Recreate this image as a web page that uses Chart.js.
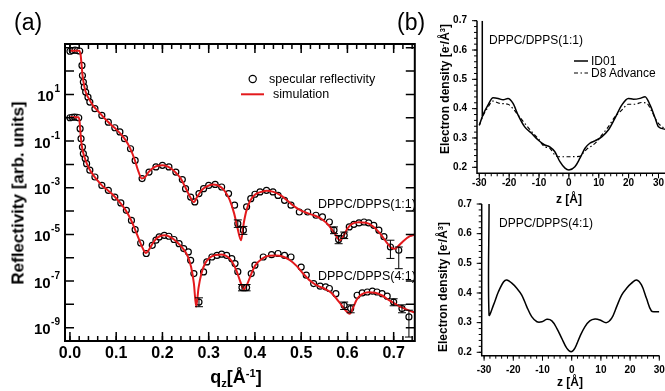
<!DOCTYPE html>
<html>
<head>
<meta charset="utf-8">
<script src="https://cdn.jsdelivr.net/npm/chart.js@4.4.0/dist/chart.umd.min.js"></script>
<style>
  body { margin: 0; width: 665px; height: 391px; background: #fff; position: relative; overflow: hidden;
         font-family: "Liberation Sans", Arial, sans-serif; color: #000; }
  canvas { position: absolute; }
  .t { position: absolute; white-space: nowrap; line-height: 1; }
  .c { transform: translate(-50%, -50%); }
  .l { transform: translateY(-50%); }
  .rot { transform: translate(-50%, -50%) rotate(-90deg); }
  .sup { font-size: 0.62em; position: relative; top: -0.5em; }
  .sub { font-size: 0.62em; position: relative; top: 0.35em; }
</style>
</head>
<body>
<canvas id="chartA" width="420" height="391" style="left:0;top:0"></canvas>
<canvas id="chartB" width="245" height="190" style="left:420px;top:0"></canvas>
<canvas id="chartC" width="245" height="201" style="left:420px;top:190px"></canvas>

<div class="t" style="left:14px;top:11px;font-size:23px">(a)</div>
<div class="t" style="left:397px;top:11px;font-size:23px">(b)</div>
<div class="t rot" style="left:18px;top:193px;font-weight:bold;font-size:17px">Reflectivity [arb. units]</div>
<div class="t c" style="left:236px;top:377px;font-weight:bold;font-size:18px">q<span class="sub">z</span>[Å<span class="sup">-1</span>]</div>
<div class="t l" style="left:269px;top:79px;font-size:12.5px">specular reflectivity</div>
<div class="t l" style="left:273px;top:94px;font-size:12.5px">simulation</div>
<div class="t l" style="left:318px;top:204px;font-size:12.5px">DPPC/DPPS(1:1)</div>
<div class="t l" style="left:318px;top:276px;font-size:12.5px">DPPC/DPPS(4:1)</div>

<div class="t rot" style="left:445px;top:89px;font-weight:bold;font-size:12px">Electron density [e<span class="sup">-</span>/Å<span class="sup">3</span>]</div>
<div class="t c" style="left:569px;top:199px;font-weight:bold;font-size:12px">z [Å]</div>
<div class="t l" style="left:489px;top:40px;font-size:12px">DPPC/DPPS(1:1)</div>
<div class="t l" style="left:591px;top:61px;font-size:12px">ID01</div>
<div class="t l" style="left:591px;top:73px;font-size:12px">D8 Advance</div>

<div class="t rot" style="left:443px;top:287px;font-weight:bold;font-size:12px">Electron density [e<span class="sup">-</span>/Å<span class="sup">3</span>]</div>
<div class="t c" style="left:570px;top:382px;font-weight:bold;font-size:12px">z [Å]</div>
<div class="t l" style="left:499px;top:223px;font-size:12px">DPPC/DPPS(4:1)</div>

<script>
// ---- (a) reflectivity: q_z [1/Å] and log10 of reflectivity ----
const q11 = [0.000, 0.005, 0.011, 0.016, 0.021, 0.026, 0.027, 0.029, 0.031, 0.034, 0.039, 0.043, 0.054, 0.069, 0.083,
  0.097, 0.108, 0.118, 0.131, 0.141, 0.156, 0.171, 0.186, 0.200, 0.214, 0.229, 0.243, 0.250, 0.261, 0.270, 0.279,
  0.289, 0.300, 0.314, 0.328, 0.343, 0.356, 0.363, 0.375, 0.382, 0.391, 0.400, 0.411, 0.425, 0.439, 0.450, 0.464,
  0.478, 0.496, 0.514, 0.532, 0.546, 0.561, 0.571, 0.581, 0.593, 0.604, 0.614, 0.625, 0.636, 0.646, 0.657, 0.668,
  0.679, 0.693, 0.711];
const logR11 = [2.85, 2.88, 2.90, 2.88, 2.86, 2.24, 1.81, 1.53, 1.31, 1.10, 0.88, 0.67, 0.39, 0.10, -0.19,
  -0.43, -0.61, -0.90, -1.33, -1.83, -2.61, -2.33, -2.11, -2.04, -2.11, -2.33, -2.65, -3.04, -3.40, -3.61, -3.25,
  -3.04, -2.90, -2.86, -2.97, -3.25, -3.75, -4.54, -4.82, -3.82, -3.47, -3.28, -3.18, -3.11, -3.18, -3.33, -3.54,
  -3.75, -4.04, -4.04, -4.18, -4.25, -4.47, -4.82, -5.22, -5.04, -4.68, -4.57, -4.51, -4.47, -4.51, -4.61, -4.82,
  -5.10, -5.54, -5.68];
// [q, log10 low, log10 high]
const err11 = [[0.363, -4.70, -4.38], [0.375, -5.00, -4.66], [0.571, -4.97, -4.68], [0.581, -5.40, -5.05],
  [0.593, -5.18, -4.90], [0.693, -6.03, -5.25], [0.711, -6.47, -5.54]];

const qSim11 = [0.000, 0.020, 0.023, 0.025, 0.027, 0.030, 0.034, 0.040, 0.050, 0.060, 0.070, 0.080, 0.090, 0.100,
  0.110, 0.120, 0.130, 0.140, 0.148, 0.155, 0.162, 0.170, 0.180, 0.190, 0.200, 0.210, 0.220, 0.230, 0.240, 0.250,
  0.260, 0.268, 0.275, 0.285, 0.295, 0.310, 0.325, 0.335, 0.345, 0.355, 0.362, 0.370, 0.376, 0.382, 0.390, 0.400,
  0.410, 0.425, 0.440, 0.455, 0.470, 0.485, 0.500, 0.515, 0.530, 0.545, 0.560, 0.572, 0.584, 0.592, 0.600, 0.610,
  0.625, 0.640, 0.655, 0.670, 0.685, 0.695, 0.702, 0.710, 0.720, 0.735, 0.746];
const logSim11 = [2.87, 2.87, 2.70, 2.30, 1.85, 1.45, 1.10, 0.85, 0.52, 0.30, 0.08, -0.13, -0.32, -0.50,
  -0.70, -0.95, -1.30, -1.80, -2.30, -2.60, -2.55, -2.33, -2.15, -2.06, -2.04, -2.08, -2.20, -2.38, -2.62, -3.00,
  -3.40, -3.62, -3.40, -3.10, -2.95, -2.86, -2.95, -3.15, -3.50, -4.10, -4.70, -5.25, -4.50, -3.95, -3.55, -3.30,
  -3.20, -3.13, -3.18, -3.32, -3.55, -3.80, -3.98, -4.10, -4.20, -4.35, -4.62, -4.95, -5.25, -5.05, -4.75, -4.55,
  -4.48, -4.50, -4.65, -4.95, -5.35, -5.58, -5.62, -5.50, -5.30, -5.08, -5.00];

const q41 = [0.000, 0.005, 0.010, 0.015, 0.019, 0.022, 0.024, 0.027, 0.029, 0.033, 0.036, 0.043, 0.054, 0.069,
  0.083, 0.097, 0.110, 0.122, 0.133, 0.141, 0.153, 0.165, 0.178, 0.186, 0.193, 0.204, 0.214, 0.225, 0.236, 0.246,
  0.256, 0.261, 0.268, 0.279, 0.289, 0.296, 0.307, 0.318, 0.328, 0.339, 0.350, 0.357, 0.363, 0.372, 0.382, 0.392,
  0.400, 0.418, 0.436, 0.450, 0.464, 0.478, 0.500, 0.511, 0.527, 0.541, 0.553, 0.561, 0.575, 0.593, 0.607, 0.621,
  0.632, 0.643, 0.654, 0.664, 0.675, 0.686, 0.700, 0.718, 0.733];
const logR41 = [0.00, 0.02, 0.03, 0.02, 0.00, -0.47, -0.90, -1.26, -1.54, -1.75, -1.97, -2.25, -2.54, -2.90,
  -3.11, -3.40, -3.65, -3.97, -4.40, -4.80, -5.37, -5.82, -5.47, -5.25, -5.11, -5.04, -5.08, -5.22, -5.40, -5.61,
  -5.75, -6.11, -6.68, -7.90, -6.61, -6.18, -5.97, -5.90, -5.85, -5.90, -6.04, -6.25, -6.60, -7.28, -7.28, -6.68,
  -6.32, -5.97, -5.87, -5.82, -5.90, -5.97, -6.40, -6.75, -7.11, -7.22, -7.25, -7.32, -7.54, -8.04, -8.18, -7.61,
  -7.51, -7.47, -7.43, -7.47, -7.54, -7.65, -7.90, -8.18, -8.54];
const err41 = [[0.279, -8.10, -7.72], [0.372, -7.42, -7.15], [0.382, -7.42, -7.15], [0.593, -8.22, -7.90],
  [0.607, -8.36, -8.02], [0.700, -8.06, -7.76], [0.718, -8.36, -8.02], [0.733, -9.40, -8.25]];

const qSim41 = [0.000, 0.019, 0.021, 0.023, 0.025, 0.028, 0.032, 0.036, 0.042, 0.050, 0.060, 0.070, 0.080, 0.090,
  0.100, 0.110, 0.120, 0.130, 0.140, 0.150, 0.158, 0.164, 0.170, 0.177, 0.186, 0.195, 0.205, 0.215, 0.225, 0.235,
  0.245, 0.255, 0.262, 0.268, 0.273, 0.278, 0.284, 0.292, 0.302, 0.315, 0.328, 0.340, 0.350, 0.360, 0.368, 0.376,
  0.384, 0.392, 0.400, 0.415, 0.430, 0.445, 0.460, 0.475, 0.490, 0.505, 0.520, 0.535, 0.550, 0.565, 0.580, 0.590,
  0.598, 0.605, 0.612, 0.620, 0.630, 0.645, 0.660, 0.675, 0.690, 0.705, 0.720, 0.735, 0.746];
const logSim41 = [0.02, 0.02, -0.20, -0.70, -1.10, -1.45, -1.72, -1.95, -2.20, -2.45, -2.70, -2.92, -3.08, -3.25,
  -3.45, -3.68, -3.95, -4.30, -4.75, -5.25, -5.62, -5.80, -5.68, -5.45, -5.20, -5.07, -5.04, -5.10, -5.22, -5.40,
  -5.62, -5.95, -6.40, -7.10, -8.10, -7.30, -6.70, -6.25, -6.00, -5.88, -5.86, -5.95, -6.15, -6.55, -7.00, -7.35,
  -7.10, -6.70, -6.35, -6.05, -5.92, -5.90, -5.95, -6.10, -6.35, -6.70, -7.00, -7.20, -7.32, -7.50, -7.85, -8.10,
  -8.30, -8.40, -8.15, -7.80, -7.58, -7.48, -7.50, -7.62, -7.82, -8.00, -8.15, -8.28, -8.35];

const qLabels = [0.0, 0.1, 0.2, 0.3, 0.4, 0.5, 0.6, 0.7];
const decadeTicks = [3, 2, 1, 0, -1, -2, -3, -4, -5, -6, -7, -8, -9];
const decadeLabels = [1, -1, -3, -5, -7, -9];

// ---- (b) electron density profiles: z [Å] and rho [e/Å^3] ----
const zID01 = [-30.0, -28.8, -27.1, -25.4, -23.7, -22.0, -20.4, -18.7, -17.0, -14.8, -12.5, -10.3, -8.1, -6.4,
  -4.7, -3.0, -1.3, 0.0, 2.0, 3.7, 5.4, 7.0, 8.7, 11.0, 13.2, 15.4, 17.7, 19.9, 21.6, 23.8, 25.5, 27.2, 28.9,
  30.0, 32.2];
const rhoID01 = [0.343, 0.378, 0.412, 0.437, 0.435, 0.430, 0.435, 0.418, 0.378, 0.338, 0.316, 0.293, 0.276, 0.270,
  0.253, 0.219, 0.197, 0.191, 0.202, 0.231, 0.265, 0.282, 0.290, 0.304, 0.327, 0.367, 0.412, 0.435, 0.432, 0.435,
  0.441, 0.412, 0.367, 0.338, 0.330];
const zD8 = [-30.0, -28.8, -27.1, -25.4, -23.2, -20.4, -18.7, -17.0, -14.8, -12.5, -10.3, -8.1, -6.4, -4.7, -3.5,
  0.0, 3.5, 4.7, 6.0, 7.5, 9.0, 11.0, 13.2, 15.4, 17.7, 19.9, 22.1, 24.3, 26.1, 27.8, 29.6, 32.2];
const rhoD8 = [0.343, 0.375, 0.405, 0.426, 0.418, 0.415, 0.400, 0.378, 0.350, 0.322, 0.298, 0.270, 0.265, 0.242,
  0.236, 0.236, 0.237, 0.248, 0.262, 0.272, 0.284, 0.310, 0.338, 0.372, 0.395, 0.415, 0.415, 0.421, 0.418, 0.390,
  0.355, 0.330];
const zEdge11 = [-29.0, -29.0];
const rhoEdge11 = [0.70, 0.375];

const z41 = [-28.3, -28.3, -26.8, -25.1, -23.3, -22.2, -20.5, -18.8, -17.1, -15.4, -13.7, -11.9, -10.2, -8.5, -6.8,
  -5.1, -3.4, -1.7, -0.2, 1.1, 2.8, 4.5, 6.2, 8.0, 9.7, 11.9, 13.7, 15.4, 17.1, 18.8, 20.5, 22.2, 23.9, 25.6, 27.3,
  29.0, 30.0];
const rho41 = [0.70, 0.326, 0.359, 0.404, 0.438, 0.444, 0.433, 0.416, 0.393, 0.354, 0.320, 0.303, 0.303, 0.311,
  0.306, 0.281, 0.247, 0.214, 0.202, 0.214, 0.253, 0.286, 0.306, 0.312, 0.309, 0.300, 0.315, 0.354, 0.393, 0.416,
  0.433, 0.444, 0.427, 0.382, 0.339, 0.337, 0.337];

const zLabels = [-30, -20, -10, 0, 10, 20, 30];
const rhoLabels = [0.2, 0.3, 0.4, 0.5, 0.6, 0.7];

const FONT = '"Liberation Sans", Arial, sans-serif';

function range(a, b, step) {
  const out = [];
  for (let v = a; v <= b + step / 1000; v += step) out.push(+v.toFixed(4));
  return out;
}
const qMinor = range(0, 0.74, 0.02);
const zMinor = range(-30, 30, 2);
const rhoMinor = range(0.2, 0.7, 0.02);

function pts(xs, ys, f) {
  return xs.map((x, i) => ({ x: x, y: f ? f(ys[i]) : ys[i] }));
}
const pow10 = v => Math.pow(10, v);

// tick marks on the sides of the plot area
function marks(ctx, a, scale, values, len, sides, inward) {
  ctx.beginPath();
  values.forEach(v => {
    const p = scale.getPixelForValue(v);
    sides.forEach(side => {
      if (side === 'bottom') { ctx.moveTo(p, a.bottom); ctx.lineTo(p, a.bottom + (inward ? -len : len)); }
      if (side === 'top') { ctx.moveTo(p, a.top); ctx.lineTo(p, a.top + (inward ? len : -len)); }
      if (side === 'left') { ctx.moveTo(a.left, p); ctx.lineTo(a.left + (inward ? len : -len), p); }
      if (side === 'right') { ctx.moveTo(a.right, p); ctx.lineTo(a.right + (inward ? -len : len), p); }
    });
  });
  ctx.stroke();
}

const reflFrame = {
  id: 'reflFrame',
  afterDatasetsDraw(chart) {
    const ctx = chart.ctx, x = chart.scales.x, y = chart.scales.y;
    ctx.save();
    ctx.strokeStyle = '#000';
    ctx.lineWidth = 1;
    err11.concat(err41).forEach(([q, lo, hi]) => {
      const px = x.getPixelForValue(q), y1 = y.getPixelForValue(pow10(lo)), y2 = y.getPixelForValue(pow10(hi));
      ctx.beginPath();
      ctx.moveTo(px, y1); ctx.lineTo(px, y2);
      ctx.moveTo(px - 4, y1); ctx.lineTo(px + 4, y1);
      ctx.moveTo(px - 4, y2); ctx.lineTo(px + 4, y2);
      ctx.stroke();
    });
    ctx.restore();
  },
  afterDraw(chart) {
    const { ctx, chartArea: a } = chart;
    const x = chart.scales.x, y = chart.scales.y;
    ctx.save();
    ctx.strokeStyle = '#000';
    ctx.lineWidth = 2;
    ctx.strokeRect(a.left, a.top, a.width, a.height);
    ctx.lineWidth = 1.5;
    marks(ctx, a, x, qMinor, 5, ['bottom', 'top'], true);
    marks(ctx, a, x, qLabels, 9, ['bottom', 'top'], true);
    marks(ctx, a, y, decadeTicks.map(pow10), 9, ['left', 'right'], true);

    ctx.fillStyle = '#000';
    ctx.textBaseline = 'middle';
    ctx.textAlign = 'center';
    ctx.font = 'bold 16px ' + FONT;
    qLabels.forEach(q => ctx.fillText(q.toFixed(1), x.getPixelForValue(q), 354));
    decadeLabels.forEach(e => {
      const py = y.getPixelForValue(pow10(e));
      const sup = String(e);
      ctx.font = 'bold 10px ' + FONT;
      const w = ctx.measureText(sup).width;
      ctx.textAlign = 'left';
      ctx.fillText(sup, 60 - w, py - 5);
      ctx.font = 'bold 15px ' + FONT;
      ctx.textAlign = 'right';
      ctx.fillText('10', 59.5 - w, py + 2.5);
    });

    // legend symbols
    ctx.lineWidth = 1.2;
    ctx.beginPath();
    ctx.arc(252.7, 79, 3.6, 0, Math.PI * 2);
    ctx.stroke();
    ctx.strokeStyle = '#e3191c';
    ctx.lineWidth = 2;
    ctx.beginPath();
    ctx.moveTo(241, 94.3); ctx.lineTo(264, 94.3);
    ctx.stroke();
    ctx.restore();
  }
};

const profileAxes = {
  id: 'profileAxes',
  afterDraw(chart, args, opts) {
    const { ctx, chartArea: a } = chart;
    const x = chart.scales.x, y = chart.scales.y;
    ctx.save();
    ctx.strokeStyle = '#000';
    ctx.lineWidth = 1.5;
    ctx.beginPath();
    ctx.moveTo(a.left, a.top); ctx.lineTo(a.left, a.bottom); ctx.lineTo(a.right, a.bottom);
    ctx.stroke();
    ctx.lineWidth = 1;
    marks(ctx, a, x, zMinor, 3, ['bottom'], false);
    marks(ctx, a, x, zLabels, 5, ['bottom'], false);
    marks(ctx, a, y, rhoMinor, 3, ['left'], false);
    marks(ctx, a, y, rhoLabels, 5, ['left'], false);

    ctx.fillStyle = '#000';
    ctx.font = 'bold 10px ' + FONT;
    ctx.textBaseline = 'middle';
    ctx.textAlign = 'right';
    rhoLabels.forEach(v => ctx.fillText(v.toFixed(1), a.left - 10, y.getPixelForValue(v)));
    ctx.textAlign = 'center';
    zLabels.forEach(v => ctx.fillText(String(v), x.getPixelForValue(v), a.bottom + opts.labelGap));

    if (opts.legend) {
      ctx.lineWidth = 1.5;
      ctx.beginPath();
      ctx.moveTo(154, 61); ctx.lineTo(168, 61);
      ctx.stroke();
      ctx.lineWidth = 1.2;
      ctx.setLineDash([4, 2.5, 1.5, 2.5]);
      ctx.beginPath();
      ctx.moveTo(154, 73); ctx.lineTo(168, 73);
      ctx.stroke();
    }
    ctx.restore();
  }
};

function baseOptions(padding, xMin, xMax, yType, yMin, yMax, plugins) {
  return {
    responsive: false,
    animation: false,
    layout: { padding: padding },
    scales: {
      x: { type: 'linear', min: xMin, max: xMax, display: false },
      y: { type: yType, min: yMin, max: yMax, display: false }
    },
    plugins: Object.assign({ legend: { display: false }, tooltip: { enabled: false } }, plugins)
  };
}

// (a)
new Chart(document.getElementById('chartA').getContext('2d'), {
  type: 'scatter',
  data: {
    datasets: [
      { label: 'simulation 1:1', data: pts(qSim11, logSim11, pow10), showLine: true, borderColor: '#e3191c',
        borderWidth: 2, pointRadius: 0, cubicInterpolationMode: 'monotone' },
      { label: 'simulation 4:1', data: pts(qSim41, logSim41, pow10), showLine: true, borderColor: '#e3191c',
        borderWidth: 2, pointRadius: 0, cubicInterpolationMode: 'monotone' },
      { label: 'DPPC/DPPS(1:1)', data: pts(q11, logR11, pow10), pointRadius: 3, borderWidth: 1.2,
        borderColor: '#000', backgroundColor: '#fff' },
      { label: 'DPPC/DPPS(4:1)', data: pts(q41, logR41, pow10), pointRadius: 3, borderWidth: 1.2,
        borderColor: '#000', backgroundColor: '#fff' }
    ]
  },
  options: baseOptions({ left: 65, top: 44, right: 2, bottom: 50 }, -0.0107, 0.7457,
    'logarithmic', pow10(-9.57), pow10(3.16), {}),
  plugins: [reflFrame]
});

// (b) top
new Chart(document.getElementById('chartB').getContext('2d'), {
  type: 'scatter',
  data: {
    datasets: [
      { label: 'ID01', data: pts(zID01, rhoID01), showLine: true, borderColor: '#000', borderWidth: 1.5,
        pointRadius: 0, cubicInterpolationMode: 'monotone' },
      { label: 'D8 Advance', data: pts(zD8, rhoD8), showLine: true, borderColor: '#000', borderWidth: 1.2,
        borderDash: [4, 2.5, 1.5, 2.5], pointRadius: 0, cubicInterpolationMode: 'monotone' },
      { label: 'edge', data: pts(zEdge11, rhoEdge11), showLine: true, borderColor: '#000', borderWidth: 1.5,
        pointRadius: 0 }
    ]
  },
  options: baseOptions({ left: 57, top: 20.7, right: 0, bottom: 16.7 }, -30.77, 32.18,
    'linear', 0.1795, 0.7, { profileAxes: { labelGap: 10, legend: true } }),
  plugins: [profileAxes]
});

// (b) bottom
new Chart(document.getElementById('chartC').getContext('2d'), {
  type: 'scatter',
  data: {
    datasets: [
      { label: 'DPPC/DPPS(4:1)', data: pts(z41, rho41), showLine: true, borderColor: '#000', borderWidth: 1.5,
        pointRadius: 0, tension: 0.35 }
    ]
  },
  options: baseOptions({ left: 61.7, top: 14, right: 5.7, bottom: 35.3 }, -30.82, 30,
    'linear', 0.1885, 0.7, { profileAxes: { labelGap: 15, legend: false } }),
  plugins: [profileAxes]
});
</script>
</body>
</html>
